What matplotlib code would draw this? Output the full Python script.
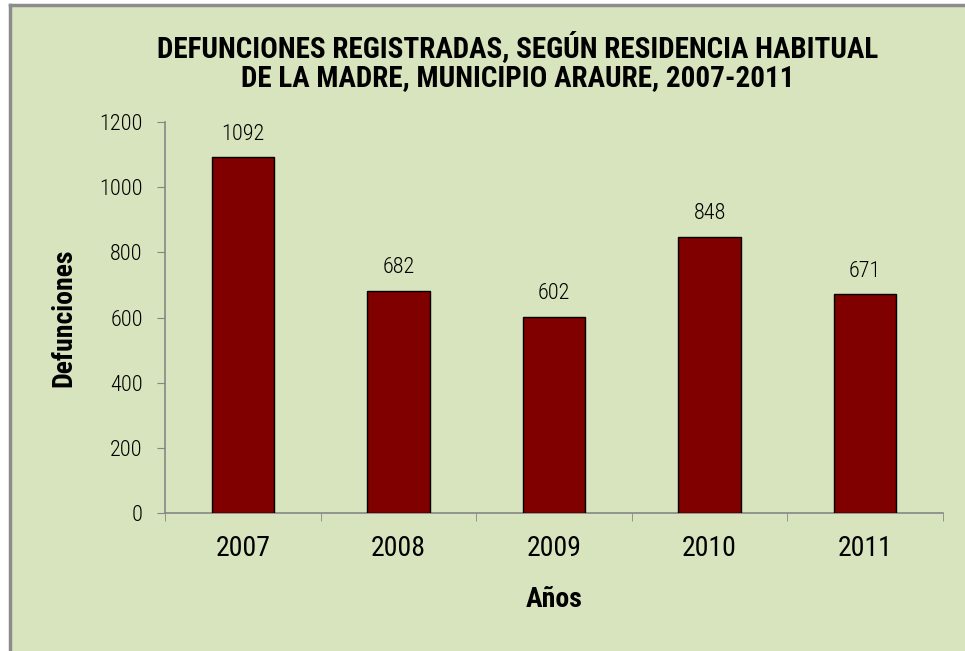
import matplotlib.pyplot as plt
from matplotlib.patches import Rectangle
from matplotlib.lines import Line2D
import numpy as np

anios = ["2007", "2008", "2009", "2010", "2011"]
defunciones = [1092, 682, 602, 848, 671]

fondo = "#D7E4BD"
gris = "#868686"
narrow = ["Roboto Condensed", "DejaVu Sans"]

fig = plt.figure(figsize=(9.65, 6.51), dpi=100, facecolor="white")

# fondo del grafico con borde gris
fig.patches.append(Rectangle((10 / 965, 0), 1, 1 - 5 / 651, transform=fig.transFigure,
                             facecolor=fondo, edgecolor="none", zorder=-10))
fig.lines.append(Line2D([10 / 965, 10 / 965], [0, 1 - 5 / 651], transform=fig.transFigure,
                        color="#8c8c8c", linewidth=2.5, zorder=-5))
fig.lines.append(Line2D([10 / 965, 1], [1 - 5 / 651, 1 - 5 / 651], transform=fig.transFigure,
                        color="#8c8c8c", linewidth=2.5, zorder=-5))

ax = fig.add_axes([165 / 965, 1 - 513 / 651, 778 / 965, 391 / 651])
ax.set_facecolor("none")

x = np.arange(len(anios))
ax.bar(x, defunciones, width=0.4, color="#800000", edgecolor="black", linewidth=1, zorder=3)

for xi, v in zip(x, defunciones):
    ax.annotate(str(v), (xi, v), xytext=(0, 9), textcoords="offset points",
                ha="center", va="bottom", fontsize=16, family=narrow, fontweight="light")

ax.set_xlim(-0.5, len(anios) - 0.5)
ax.set_ylim(0, 1200)
ax.set_yticks(range(0, 1201, 200))
ax.set_xticks(x)
ax.set_xticklabels(anios, fontsize=20, family=narrow)
ax.set_xticks(np.arange(-0.5, len(anios)), minor=True)
ax.tick_params(axis="x", which="major", length=0, pad=16)
ax.tick_params(axis="x", which="minor", length=6, color=gris, direction="out")
ax.tick_params(axis="y", length=6, color=gris, direction="out", pad=10)
for lbl in ax.get_yticklabels():
    lbl.set_fontsize(16)
    lbl.set_family(narrow)
    lbl.set_fontweight("light")

for s in ["top", "right"]:
    ax.spines[s].set_visible(False)
for s in ["left", "bottom"]:
    ax.spines[s].set_color(gris)
    ax.spines[s].set_linewidth(1.2)

ax.set_xlabel("Años", fontsize=20, fontweight="bold", family=narrow, labelpad=17)
ax.set_ylabel("Defunciones", fontsize=20, fontweight="bold", family=narrow, labelpad=16)

fig.text(518 / 965, 1 - 62 / 651,
         "DEFUNCIONES REGISTRADAS, SEGÚN RESIDENCIA HABITUAL\nDE LA MADRE, MUNICIPIO ARAURE, 2007-2011",
         ha="center", va="center", fontsize=21, fontweight="bold", family=narrow, linespacing=1.05)

fig.savefig("out.png", dpi=100, facecolor="white")
